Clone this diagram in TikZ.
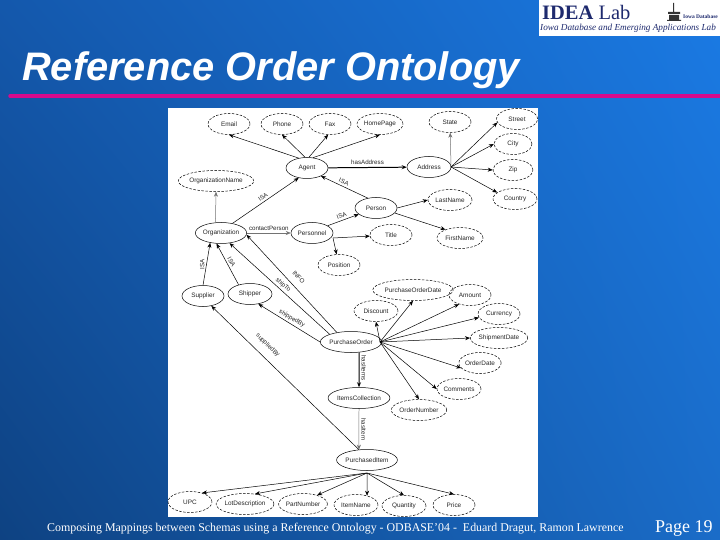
\documentclass[tikz,border=0pt]{standalone}
\usepackage{fontspec}
\setmainfont{Liberation Serif}
\setsansfont{Liberation Sans}
\usepackage{tikz}
\usetikzlibrary{calc,positioning,shapes.geometric,arrows.meta,shadings}
\definecolor{slideul}{RGB}{20,88,172}
\definecolor{slideur}{RGB}{26,122,228}
\definecolor{slidell}{RGB}{14,66,130}
\definecolor{slidelr}{RGB}{26,108,200}
\definecolor{ruleline}{RGB}{215,10,140}
\definecolor{ideablue}{RGB}{30,42,110}
\begin{document}
\begin{tikzpicture}[x=1bp,y=-1bp,
 attr/.style={draw, ellipse, dash pattern=on 2.5bp off 1.5bp, line width=0.5pt,
          inner sep=0pt, minimum width=42bp, minimum height=21bp,
          font=\fontsize{6.4bp}{7bp}\sffamily, text=black!85},
 cls/.style={attr, solid},
 arrow/.style={-{Stealth[length=5pt,width=4pt]}, draw=black, line width=0.5pt},
 greyarrow/.style={arrow, draw=black!55},
 rel/.style={font=\fontsize{6.2bp}{7bp}\sffamily, text=black!85, inner sep=2bp}
]
\useasboundingbox (0,0) rectangle (720,540);
% Slide ground, rule and title
\shade[shading=bilinear interpolation, upper left=slideul, upper right=slideur, lower left=slidell, lower right=slidelr] (0,0) rectangle (720,540);
\node[fill=white, minimum width=181bp, minimum height=36bp, inner sep=0pt] (logobox) at (629.5,18) {};
\node[anchor=base west, font=\fontsize{20.5bp}{21bp}\selectfont, text=ideablue, inner sep=0pt] (logotext) at (542,20) {\textbf{IDEA} Lab};
\node[anchor=base west, font=\fontsize{9.2bp}{10bp}\itshape, text=ideablue, inner sep=0pt] (logosub) at (540,31) {Iowa Database and Emerging Applications Lab};
\node[anchor=west, font=\fontsize{5.5bp}{6bp}\bfseries, text=ideablue, inner sep=0pt] (logouni) at (683,16.5) {Iowa Database};
\fill[black!80] (668,12) rectangle (680,14) (669,15) rectangle (679,20) (667,20) rectangle (681,21) (673,3) rectangle (674,12);
\node[anchor=base west, font=\fontsize{39.8bp}{40bp}\sffamily\bfseries\itshape, text=white, inner sep=0pt] (title) at (22,81) {Reference Order Ontology};
\draw[ruleline, line width=3.5bp, line cap=round] (10,96) -- (720,96);
\node[fill=white, minimum width=370bp, minimum height=409bp, inner sep=0pt] (sheet) at (353,312.5) {};
% Agent and its attributes
\node[attr] (email) at (229,124) {Email};
\node[attr] (phone) at (282,124) {Phone};
\node[attr] (fax) at (330,124) {Fax};
\node[attr, minimum width=46bp] (homepage) at (380,124) {HomePage};
\node[cls] (agent) at (307,168) {Agent};
\node[cls, minimum width=44bp] (address) at (429,167) {Address};
\node[attr] (state) at (450,122) {State};
\node[attr, minimum width=41bp] (street) at (517,119) {Street};
\node[attr, minimum width=38bp] (city) at (513,144) {City};
\node[attr, minimum width=40bp] (zip) at (513,170) {Zip};
\node[attr, minimum width=44bp] (country) at (515,199) {Country};
\node[attr, minimum width=68bp] (orgname) at (216,181) {OrganizationName};
\node[cls] (person) at (376,208) {Person};
\node[attr, minimum width=44bp] (lastname) at (450,200) {LastName};
\node[cls, minimum width=50bp] (organization) at (221,233) {Organization};
\node[cls] (personnel) at (312,233) {Personnel};
\node[attr] (jobtitle) at (391,235) {Title};
\node[attr, minimum width=46bp] (firstname) at (460,238) {FirstName};
\node[attr] (position) at (339,265) {Position};
\node[cls] (supplier) at (203,296) {Supplier};
\node[cls, minimum width=44bp] (shipper) at (250,294) {Shipper};
% Purchase order and its attributes
\node[cls, minimum width=58bp] (order) at (351,342) {PurchaseOrder};
\node[attr, minimum width=64bp] (orderdate) at (413,290) {PurchaseOrderDate};
\node[attr] (amount) at (470,295) {Amount};
\node[attr, minimum width=44bp] (discount) at (376,311) {Discount};
\node[attr] (currency) at (499,314) {Currency};
\node[attr, minimum width=52bp] (shipdate) at (499,338) {ShipmentDate};
\node[attr] (odate) at (480,363) {OrderDate};
\node[attr, minimum width=44bp] (comments) at (459,389) {Comments};
\node[attr, minimum width=50bp] (ordernumber) at (419,410) {OrderNumber};
\node[cls, minimum width=58bp] (items) at (359,398) {ItemsCollection};
\node[cls, minimum width=58bp] (item) at (367,460) {PurchasedItem};
\node[attr, minimum width=44bp] (upc) at (190,502) {UPC};
\node[attr, minimum width=56bp] (lotdesc) at (245,504) {LotDescription};
\node[attr, minimum width=44bp] (partnumber) at (303,504) {PartNumber};
\node[attr, minimum width=44bp] (itemname) at (356,505) {ItemName};
\node[attr, minimum width=44bp] (quantity) at (404,506) {Quantity};
\node[attr] (price) at (454,505) {Price};
% Connectors
\foreach \from/\attrname in {130/email.south,100/phone.south,80/fax.-100,60/homepage.south}
 \draw[arrow] (agent.\from) -- (\attrname);
\draw[arrow, line width=1pt] (agent) -- node[above, rel] {hasAddress} (address);
\coordinate (addrhub) at (451,167);
\draw[greyarrow] (addrhub) -- (state);
\foreach \attrname in {street.190,city.west,zip.west,country.160}
 \draw[arrow] (addrhub) -- (\attrname);
\draw[arrow] (organization.40) -- node[above, rel, sloped] {ISA} (agent.-130);
\draw[arrow] (person.130) -- node[above, rel, sloped, pos=0.55] {ISA} (agent.-30);
\draw[greyarrow] (organization.118) -- (orgname.south);
\draw[arrow] (personnel.25) -- node[above, rel, sloped] {ISA} (person.200);
\draw[arrow] (person.east) -- (lastname.west);
\draw[arrow] (person.-15) -- (firstname.150);
\draw[greyarrow] (organization) -- node[above, rel] {contactPerson} (personnel);
\coordinate (perhub) at (333,238);
\draw[arrow] (perhub) -- (jobtitle);
\draw[arrow] (perhub) -- (position);
\draw[arrow] (supplier.north) -- node[rel, rotate=90, anchor=south] {ISA} (organization.222);
\draw[arrow] (shipper.141) -- node[above, rel, sloped] {ISA} (organization.-113);
\draw[arrow] (order.146) -- node[above=5bp, rel, sloped, pos=0.5] {INFO} (organization.-4);
\draw[arrow] (order.160) -- node[above, rel, sloped, pos=0.5] {shipTo} (organization.-50);
\draw[arrow] (order.west) -- node[above, rel, sloped] {shippedBy} (shipper.-50);
\draw[arrow] (item.128) -- node[above=6bp, rel, sloped, pos=0.67] {suppliedBy} (supplier.-50);
\coordinate (ordhub) at (380,342);
\foreach \attrname in {discount.south,orderdate.south,amount.220,currency.190,shipdate.west,odate.195,comments.west,ordernumber.north}
 \draw[arrow] (ordhub) -- (\attrname);
\draw[arrow, line width=1pt] (order.-52) -- node[rel, rotate=-90, anchor=south, pos=0.45] {hasItems} (items.north);
\draw[greyarrow] (items.south) -- node[rel, rotate=-90, anchor=south] {hasItem} (item.128);
\coordinate (itemhub) at (367,473);
\foreach \attrname in {upc.37,lotdesc.45,partnumber.32,itemname.40,quantity.north,price.north}
 \draw[arrow] (itemhub) -- (\attrname);
% Footer
\node[anchor=base west, font=\fontsize{11.9bp}{12bp}\selectfont, text=white, inner sep=0pt] (footer) at (47,531) {Composing Mappings between Schemas using a Reference Ontology - ODBASE’04 -\ \ Eduard Dragut, Ramon Lawrence};
\node[anchor=base west, font=\fontsize{18bp}{19bp}\selectfont, text=white, inner sep=0pt] (pageno) at (655,532) {Page 19};
\end{tikzpicture}
\end{document}
